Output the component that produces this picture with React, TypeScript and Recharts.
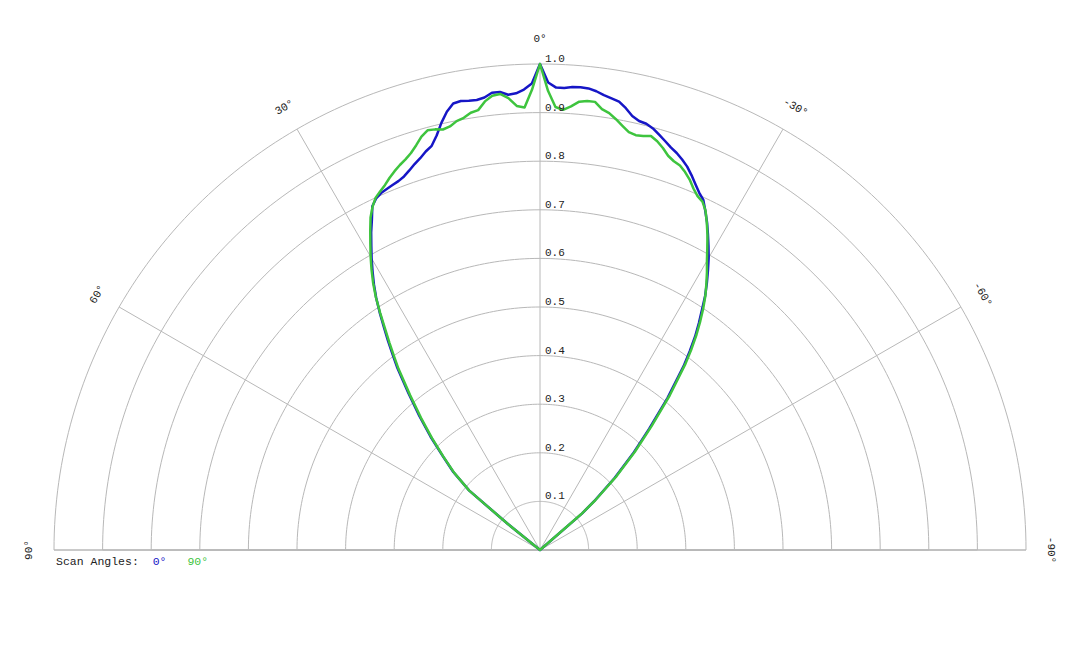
import React from 'react';
import { Legend, PolarAngleAxis, PolarGrid, PolarRadiusAxis, Radar, RadarChart } from 'recharts';

// scan direction in degrees (positive = left of the 0° axis)
const ANGLES = [
  -50, -49, -48, -46, -44, -42, -40,
  -38, -37, -36, -35, -34, -33, -32, -31, -30, -29, -28, -27, -26, -25, -24, -23, -22, -21, -20,
  -19, -18, -17, -16, -15, -14, -13, -12, -11, -10, -9, -8, -7, -6, -5, -4, -3, -2, -1,
  0,
  1, 2, 3, 4, 5, 6, 7, 8, 9, 10, 11, 12, 13, 14, 15, 16, 17, 18, 19,
  20, 21, 22, 23, 24, 25, 26, 27, 28, 29, 30, 31, 32, 33, 34, 35, 36, 37, 38,
  40, 42, 44, 46, 48, 50, 51, 52,
];

// relative intensity, scan angle 0°
const SCAN_0 = [
  0, 0.115, 0.15, 0.214, 0.275, 0.336, 0.408,
  0.48, 0.512, 0.543, 0.57, 0.596, 0.624, 0.648, 0.671, 0.694, 0.715, 0.736, 0.757, 0.776, 0.795, 0.805, 0.818, 0.832, 0.845, 0.855,
  0.864, 0.871, 0.88, 0.889, 0.898, 0.904, 0.906, 0.913, 0.926, 0.937, 0.941, 0.945, 0.951, 0.955, 0.956, 0.955, 0.952, 0.952, 0.962,
  1.0,
  0.96, 0.948, 0.941, 0.939, 0.946, 0.946, 0.938, 0.935, 0.936, 0.938, 0.936, 0.922, 0.902, 0.879, 0.861, 0.853, 0.843, 0.835, 0.826,
  0.818, 0.813, 0.81, 0.807, 0.804, 0.798, 0.787, 0.762, 0.74, 0.716, 0.693, 0.669, 0.645, 0.619, 0.59, 0.56, 0.532, 0.504, 0.478,
  0.421, 0.371, 0.324, 0.278, 0.24, 0.19, 0.085, 0,
];

// relative intensity, scan angle 90°
const SCAN_90 = [
  0, 0.112, 0.153, 0.219, 0.281, 0.343, 0.415,
  0.486, 0.518, 0.548, 0.575, 0.601, 0.625, 0.646, 0.667, 0.687, 0.71, 0.734, 0.756, 0.777, 0.791, 0.797, 0.808, 0.822, 0.833, 0.842,
  0.846, 0.853, 0.865, 0.875, 0.882, 0.878, 0.876, 0.879, 0.889, 0.9, 0.91, 0.916, 0.929, 0.929, 0.926, 0.915, 0.907, 0.912, 0.945,
  1.0,
  0.947, 0.911, 0.915, 0.932, 0.942, 0.94, 0.93, 0.914, 0.911, 0.903, 0.899, 0.891, 0.888, 0.892, 0.894, 0.885, 0.871, 0.859, 0.85,
  0.843, 0.835, 0.826, 0.816, 0.808, 0.8, 0.786, 0.768, 0.744, 0.72, 0.697, 0.673, 0.648, 0.62, 0.588, 0.556, 0.527, 0.499, 0.473,
  0.416, 0.366, 0.32, 0.276, 0.238, 0.19, 0.085, 0,
];

const ANGLE_TICKS = [-90, -60, -30, 0, 30, 60, 90];
const RADIUS_TICKS = [0.1, 0.2, 0.3, 0.4, 0.5, 0.6, 0.7, 0.8, 0.9, 1.0];

const BLUE = '#1616c6';
const GREEN = '#3ec43e';
const GRID = '#b8b8b8';
const MONO = '"Liberation Mono", "DejaVu Sans Mono", monospace';

// grid geometry (recharts degrees): dense half-ring polygons, spokes every 30°
const RING_ANGLES = Array.from({ length: 181 }, (_, i) => i);
const SPOKE_ANGLES = [0, 30, 60, 90, 120, 150, 180];

const rows = ANGLES.map((angle, i) => ({ angle, scan0: SCAN_0[i], scan90: SCAN_90[i] }));

const AngleTick = (props: any) => {
  const { x, y, payload } = props;
  return (
    <text
      x={x}
      y={y}
      textAnchor="middle"
      dominantBaseline="central"
      transform={`rotate(${-payload.value}, ${x}, ${y})`}
      fontFamily={MONO}
      fontSize={11}
      fill="#222"
    >
      {`${payload.value}°`}
    </text>
  );
};

const RadiusTick = (props: any) => {
  const { x, y, payload } = props;
  if (!payload.value) return null;
  return (
    <text x={x + 5} y={y - 2} textAnchor="start" fontFamily={MONO} fontSize={11} fill="#222">
      {Number(payload.value).toFixed(1)}
    </text>
  );
};

const ScanLegend = (props: any) => (
  <div style={{ fontFamily: MONO, fontSize: 11.5, lineHeight: '14px', color: '#222', whiteSpace: 'pre' }}>
    {'Scan Angles:  '}
    {(props.payload ?? []).map((entry: any) => (
      <span key={entry.value} style={{ color: entry.color, marginRight: 21 }}>
        {entry.value}
      </span>
    ))}
  </div>
);

export default function App() {
  return (
    <div style={{ position: 'absolute', left: 0, top: 0, width: 1080, height: 648, background: '#fff' }}>
      <RadarChart
        width={1080}
        height={648}
        data={rows}
        cx={540}
        cy={550}
        outerRadius={486}
        startAngle={0}
        endAngle={180}
        margin={{ top: 0, right: 0, bottom: 0, left: 0 }}
      >
        <PolarGrid gridType="polygon" radialLines={false} polarAngles={RING_ANGLES} stroke={GRID} />
        <PolarGrid gridType="polygon" polarAngles={SPOKE_ANGLES} polarRadius={[]} stroke={GRID} />
        <PolarAngleAxis
          dataKey="angle"
          type="number"
          domain={[-90, 90]}
          ticks={ANGLE_TICKS}
          tickCount={7}
          tickSize={25}
          tickLine={false}
          axisLine={false}
          tick={AngleTick}
        />
        <PolarRadiusAxis
          angle={90}
          type="number"
          domain={[0, 1]}
          ticks={RADIUS_TICKS}
          tickCount={11}
          axisLine={false}
          tickLine={false}
          tick={RadiusTick}
        />
        <Radar
          name="0°"
          dataKey="scan0"
          stroke={BLUE}
          strokeWidth={2.5}
          strokeLinejoin="round"
          fill="none"
          fillOpacity={0}
          dot={false}
          isAnimationActive={false}
        />
        <Radar
          name="90°"
          dataKey="scan90"
          stroke={GREEN}
          strokeWidth={2.5}
          strokeLinejoin="round"
          fill="none"
          fillOpacity={0}
          dot={false}
          isAnimationActive={false}
        />
        <Legend
          content={ScanLegend}
          wrapperStyle={{ left: 56, top: 555, bottom: 'auto', width: 'auto', height: 'auto' }}
        />
      </RadarChart>
    </div>
  );
}
